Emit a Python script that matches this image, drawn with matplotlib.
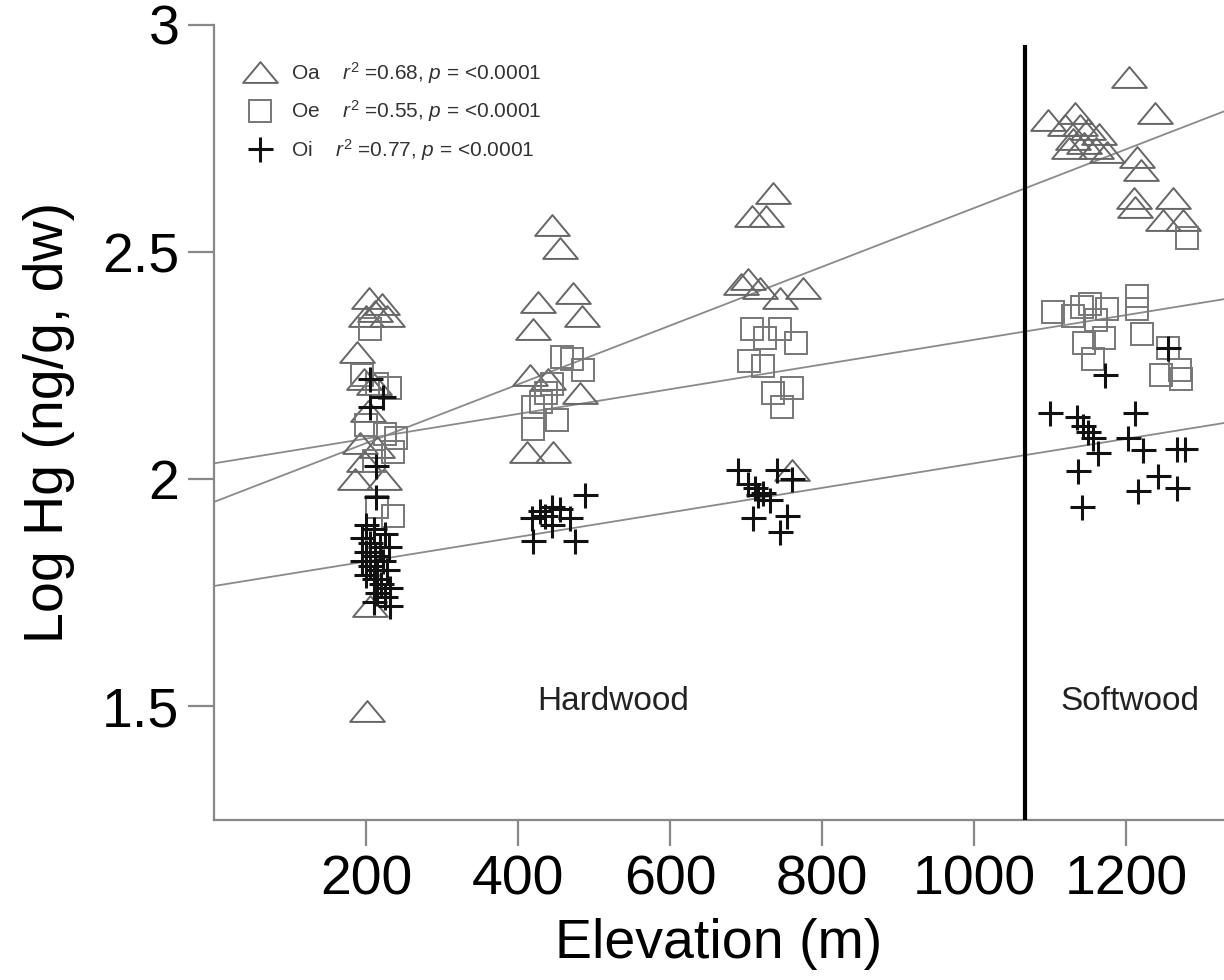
import matplotlib.pyplot as plt
import numpy as np
from matplotlib.lines import Line2D
from matplotlib.path import Path

plt.rcParams['font.family'] = ['Liberation Sans', 'DejaVu Sans']
plt.rcParams['mathtext.fontset'] = 'custom'
plt.rcParams['mathtext.rm'] = 'Liberation Sans'
plt.rcParams['mathtext.it'] = 'Liberation Sans:italic'

# Oa horizon (triangles)
oa_x = [204, 221, 212, 228, 200, 188, 198, 210, 203, 192, 215, 197, 186, 224, 205, 202,
        445, 455, 426, 473, 484, 420, 416, 440, 482, 412, 446,
        735, 708, 727, 693, 703, 718, 775, 745, 760,
        1204, 1238, 1098, 1133, 1120, 1140, 1150, 1165, 1130, 1145, 1160, 1125, 1175,
        1214, 1220, 1210, 1212, 1262, 1249, 1275]
oa_y = [2.40, 2.385, 2.37, 2.36, 2.36, 2.28, 2.22, 2.21, 2.15, 2.08, 2.07, 2.04, 2.00, 2.00, 1.72, 1.49,
        2.56, 2.51, 2.39, 2.41, 2.36, 2.33, 2.23, 2.22, 2.19, 2.06, 2.06,
        2.63, 2.58, 2.58, 2.43, 2.44, 2.42, 2.42, 2.40, 2.02,
        2.885, 2.807, 2.79, 2.807, 2.78, 2.78, 2.77, 2.76, 2.75, 2.74, 2.73, 2.73, 2.72,
        2.71, 2.68, 2.62, 2.60, 2.62, 2.57, 2.57]

# Oe horizon (squares)
oe_x = [205, 195, 232, 215, 225, 236, 240, 210, 200, 215, 236,
        420, 420, 430, 451, 458, 471, 486, 445, 437,
        708, 725, 745, 766, 704, 722, 735, 760, 748,
        1104, 1142, 1153, 1175, 1214, 1214, 1145, 1171, 1157, 1221, 1255, 1246, 1271, 1272, 1280, 1130, 1160]
oe_y = [2.33, 2.23, 2.20, 2.21, 2.10, 2.06, 2.09, 2.04, 2.12, 1.94, 1.92,
        2.16, 2.11, 2.17, 2.13, 2.27, 2.265, 2.24, 2.21, 2.19,
        2.33, 2.31, 2.33, 2.30, 2.26, 2.25, 2.19, 2.20, 2.16,
        2.368, 2.38, 2.386, 2.375, 2.404, 2.375, 2.30, 2.31, 2.265, 2.32, 2.29, 2.23, 2.24, 2.22, 2.53, 2.36, 2.35]

# Oi horizon (pluses)
oi_x = [205, 222, 205, 213, 213,
        200, 210, 225, 195, 205, 218, 230, 200, 212, 222, 195, 205, 215, 228, 200, 210, 220, 232, 215, 225, 232, 210,
        488, 429, 455, 445, 420, 475, 418, 445, 468, 436,
        690, 741, 760, 712, 716, 731, 703, 709, 754, 745, 722,
        1100, 1135, 1143, 1150, 1157, 1163, 1212, 1203, 1222, 1267, 1278, 1137, 1242, 1216, 1267, 1142, 1172, 1255]
oi_y = [2.22, 2.18, 2.16, 2.03, 1.96,
        1.90, 1.89, 1.88, 1.87, 1.86, 1.85, 1.85, 1.84, 1.83, 1.82, 1.82, 1.81, 1.80, 1.80, 1.79, 1.78, 1.77, 1.76, 1.75, 1.74, 1.72, 1.73,
        1.965, 1.93, 1.935, 1.94, 1.865, 1.865, 1.915, 1.90, 1.915, 1.92,
        2.02, 2.02, 2.00, 1.98, 1.965, 1.955, 1.99, 1.915, 1.92, 1.885, 1.97,
        2.145, 2.138, 2.118, 2.105, 2.09, 2.057, 2.145, 2.09, 2.064, 2.066, 2.066, 2.018, 2.007, 1.974, 1.98, 1.94, 2.23, 2.29]

# regression lines (intercept, slope)
fits = {'Oa': (1.95, 0.000647), 'Oe': (2.035, 0.000272), 'Oi': (1.765, 0.000270)}
stats = {'Oa': '0.68', 'Oe': '0.55', 'Oi': '0.77'}
boundary = 1067

tri = Path([(-1, -0.6), (1, -0.6), (0, 0.6), (-1, -0.6)],
           [Path.MOVETO, Path.LINETO, Path.LINETO, Path.CLOSEPOLY])

styles = {
    'Oa': dict(marker=tri, markersize=25, markerfacecolor='none', markeredgecolor='#666666', markeredgewidth=1.4),
    'Oe': dict(marker='s', markersize=16.5, markerfacecolor='none', markeredgecolor='#777777', markeredgewidth=1.4),
    'Oi': dict(marker='+', markersize=18, markeredgecolor='#111111', markeredgewidth=2.2),
}

fig = plt.figure(figsize=(12.24, 9.8), dpi=100)
ax = fig.add_axes([0.1748, 0.1633, 0.8252, 0.8112])
ax.set_xlim(0, 1329)
ax.set_ylim(1.25, 3.0)

xs = np.array(ax.get_xlim())
for name in ['Oa', 'Oe', 'Oi']:
    a, b = fits[name]
    ax.plot(xs, a + b * xs, color='#8a8a8a', lw=1.3, zorder=1)

ax.plot(oa_x, oa_y, linestyle='none', zorder=2, **styles['Oa'])
ax.plot(oe_x, oe_y, linestyle='none', zorder=2, **styles['Oe'])
ax.plot(oi_x, oi_y, linestyle='none', zorder=3, **styles['Oi'])

ax.vlines(boundary, 1.25, 2.956, color='black', lw=3, zorder=4)

ax.text(525, 1.51, 'Hardwood', fontsize=24, ha='center', va='center', color='#222222')
ax.text(1205, 1.51, 'Softwood', fontsize=24, ha='center', va='center', color='#222222')

handles = [Line2D([], [], linestyle='none', **styles[n]) for n in ['Oa', 'Oe', 'Oi']]
labels = [f'{n}    $r^2$ ={stats[n]}, $p$ = <0.0001' for n in ['Oa', 'Oe', 'Oi']]
leg = ax.legend(handles, labels, loc='upper left', bbox_to_anchor=(0.027, 0.956), frameon=False,
                fontsize=15, handletextpad=0.6, labelspacing=0.6, borderaxespad=0, handlelength=1.8,
                borderpad=0)
for t in leg.get_texts():
    t.set_color('#333333')

for side in ['top', 'right']:
    ax.spines[side].set_visible(False)
for side in ['left', 'bottom']:
    ax.spines[side].set_color('#888888')
    ax.spines[side].set_linewidth(1.6)

ax.set_xticks([200, 400, 600, 800, 1000, 1200])
ax.set_yticks([1.5, 2, 2.5, 3])
ax.set_yticklabels(['1.5', '2', '2.5', '3'])
ax.tick_params(direction='out', length=19, width=1.6, color='#888888', labelsize=40, pad=6)

ax.set_xlabel('Elevation (m)', fontsize=40, labelpad=8)
ax.set_ylabel('Log Hg (ng/g, dw)', fontsize=40, labelpad=19)

fig.savefig('out.png', dpi=100)
